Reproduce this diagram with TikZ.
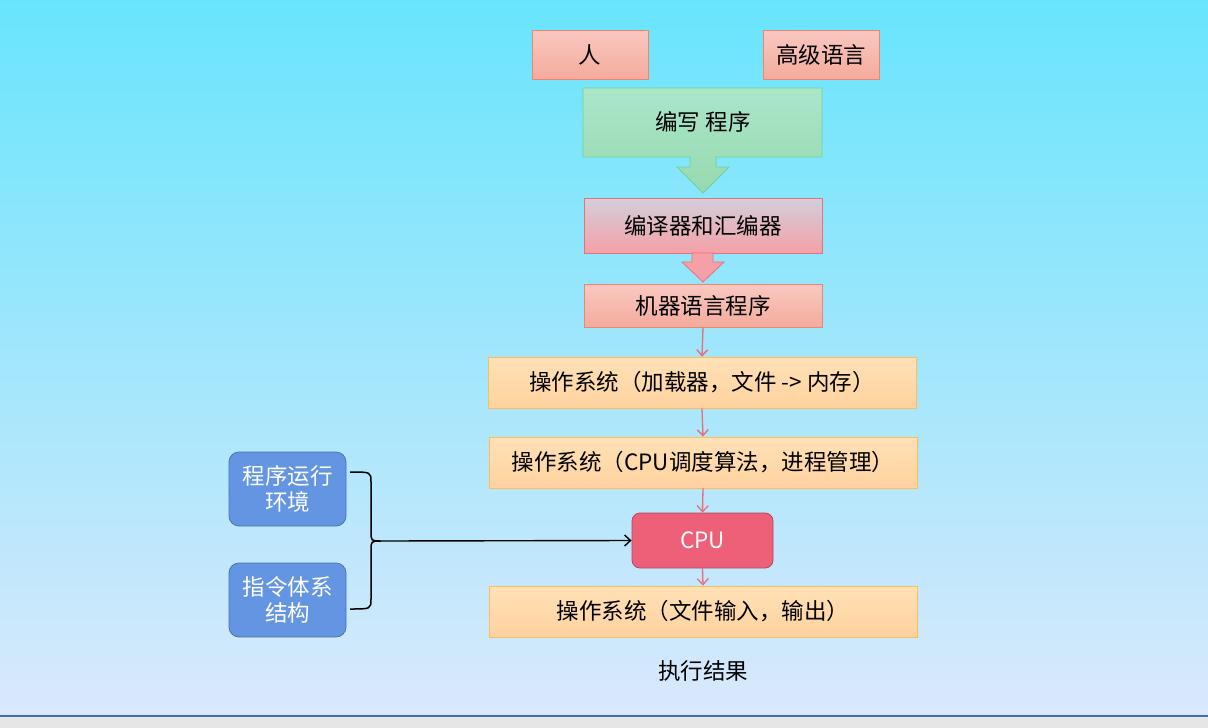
\documentclass[tikz,border=0pt]{standalone}
\usepackage{fontspec}
\setmainfont{Noto Sans CJK SC}
\usetikzlibrary{arrows.meta,shadings}
\definecolor{bgtop}{HTML}{68E5FC}
\definecolor{bgbot}{HTML}{DAE8FC}
\definecolor{salT}{HTML}{F9C8C0}
\definecolor{salB}{HTML}{F4AB9D}
\definecolor{salD}{HTML}{F0846E}
\definecolor{grnT}{HTML}{ABE6CA}
\definecolor{grnB}{HTML}{96D9AF}
\definecolor{grnD}{HTML}{74D096}
\definecolor{pnkT}{HTML}{D2CFDB}
\definecolor{pnkB}{HTML}{F5A0A7}
\definecolor{pnkD}{HTML}{E8707A}
\definecolor{orgT}{HTML}{FFE1B6}
\definecolor{orgB}{HTML}{FFD29F}
\definecolor{orgD}{HTML}{FFBC57}
\definecolor{cpuF}{HTML}{EE6078}
\definecolor{cpuD}{HTML}{B3475B}
\definecolor{bluF}{HTML}{6495E2}
\definecolor{bluD}{HTML}{4A74B8}
\definecolor{arr}{HTML}{EA6B7A}
\definecolor{lineblue}{HTML}{3C6EB4}
\definecolor{footgrey}{HTML}{E6E6E6}
\tikzset{
  txt/.style={font=\fontsize{22.5}{26}\selectfont, text=black, inner sep=0pt, align=center},
  salbox/.style={txt, draw=salD, line width=0.8pt, top color=salT, bottom color=salB},
  orgbox/.style={txt, draw=orgD, line width=0.8pt, top color=orgT, bottom color=orgB, minimum width=428pt, minimum height=51pt},
  blubox/.style={txt, text=white, draw=bluD, line width=0.8pt, fill=bluF, rounded corners=10pt, minimum width=117pt, minimum height=74pt},
  thin/.style={draw=arr, line width=1.3pt, -{Straight Barb[length=6pt,width=11pt]}},
}
\begin{document}
\begin{tikzpicture}[x=1pt,y=-1pt]
\useasboundingbox (0,0) rectangle (1208,728);
% background
\shade[top color=bgtop, bottom color=bgbot] (0,0) rectangle (1208,716);
\fill[footgrey] (0,716) rectangle (1208,728);
\draw[draw=lineblue, line width=1.2pt] (0,716) -- (1208,716);

% top boxes
\node[salbox, minimum width=116pt, minimum height=49pt] (ren) at (590,54.5) {人};
\node[salbox, minimum width=116pt, minimum height=49pt] (gaoji) at (821,54.5) {高级语言};

% green callout
\shade[top color=grnT, bottom color=grnB, draw=grnD, line width=0.8pt]
  (583,88) -- (822,88) -- (822,157) -- (716,157) -- (716,167) -- (729,167) -- (703,193)
  -- (677,167) -- (690,167) -- (690,157) -- (583,157) -- cycle;
\node[txt] (bianxie) at (703,122) {编写 程序};

% compiler box + arrow
\node[salbox, top color=pnkT, bottom color=pnkB, draw=pnkD, minimum width=238pt, minimum height=55pt] (compiler) at (703,225.5) {编译器和汇编器};
\fill[pnkB, draw=pnkD, line width=0.8pt]
  (692,253) -- (713,253) -- (713,262) -- (724,262) -- (703,282) -- (682,262) -- (692,262) -- cycle;

\node[salbox, minimum width=238pt, minimum height=43pt] (machine) at (703,305.5) {机器语言程序};

\node[orgbox] (os1) at (702,382.5) {操作系统（加载器，文件 -> 内存）};
\node[orgbox] (os2) at (703,462.5) {操作系统（CPU调度算法，进程管理）};
\node[txt, text=white, draw=cpuD, line width=0.8pt, fill=cpuF, rounded corners=8pt, minimum width=141pt, minimum height=55pt] (cpu) at (702.5,540.5) {CPU};
\node[orgbox] (os3) at (703,611.5) {操作系统（文件输入，输出）};
\node[txt] (result) at (703,671) {执行结果};

\draw[thin] (machine.south) -- (os1.north);
\draw[thin] (os1.south) -- (os2.north);
\draw[thin] (os2.south) -- (cpu.north);
\draw[thin] (cpu.south) -- (os3.north);

% blue boxes
\node[blubox] (env) at (287.5,489) {程序运行\\环境};
\node[blubox] (isa) at (287.5,600) {指令体系\\结构};

% brace
\coordinate (btop) at (350,472);
\coordinate (bbot) at (350,609);
\coordinate (btip) at (381,541);
\draw[black, line width=1.5pt]
  (btop) .. controls (371,472) and (371,472) .. (371,482) -- (371,531)
  .. controls (371,541) .. (btip)
  .. controls (371,541) .. (371,551) -- (371,599)
  .. controls (371,609) and (371,609) .. (bbot);
\draw[black, line width=1.4pt, -{Straight Barb[length=6pt,width=11pt]}] (btip) -- (cpu.west);
\end{tikzpicture}
\end{document}
